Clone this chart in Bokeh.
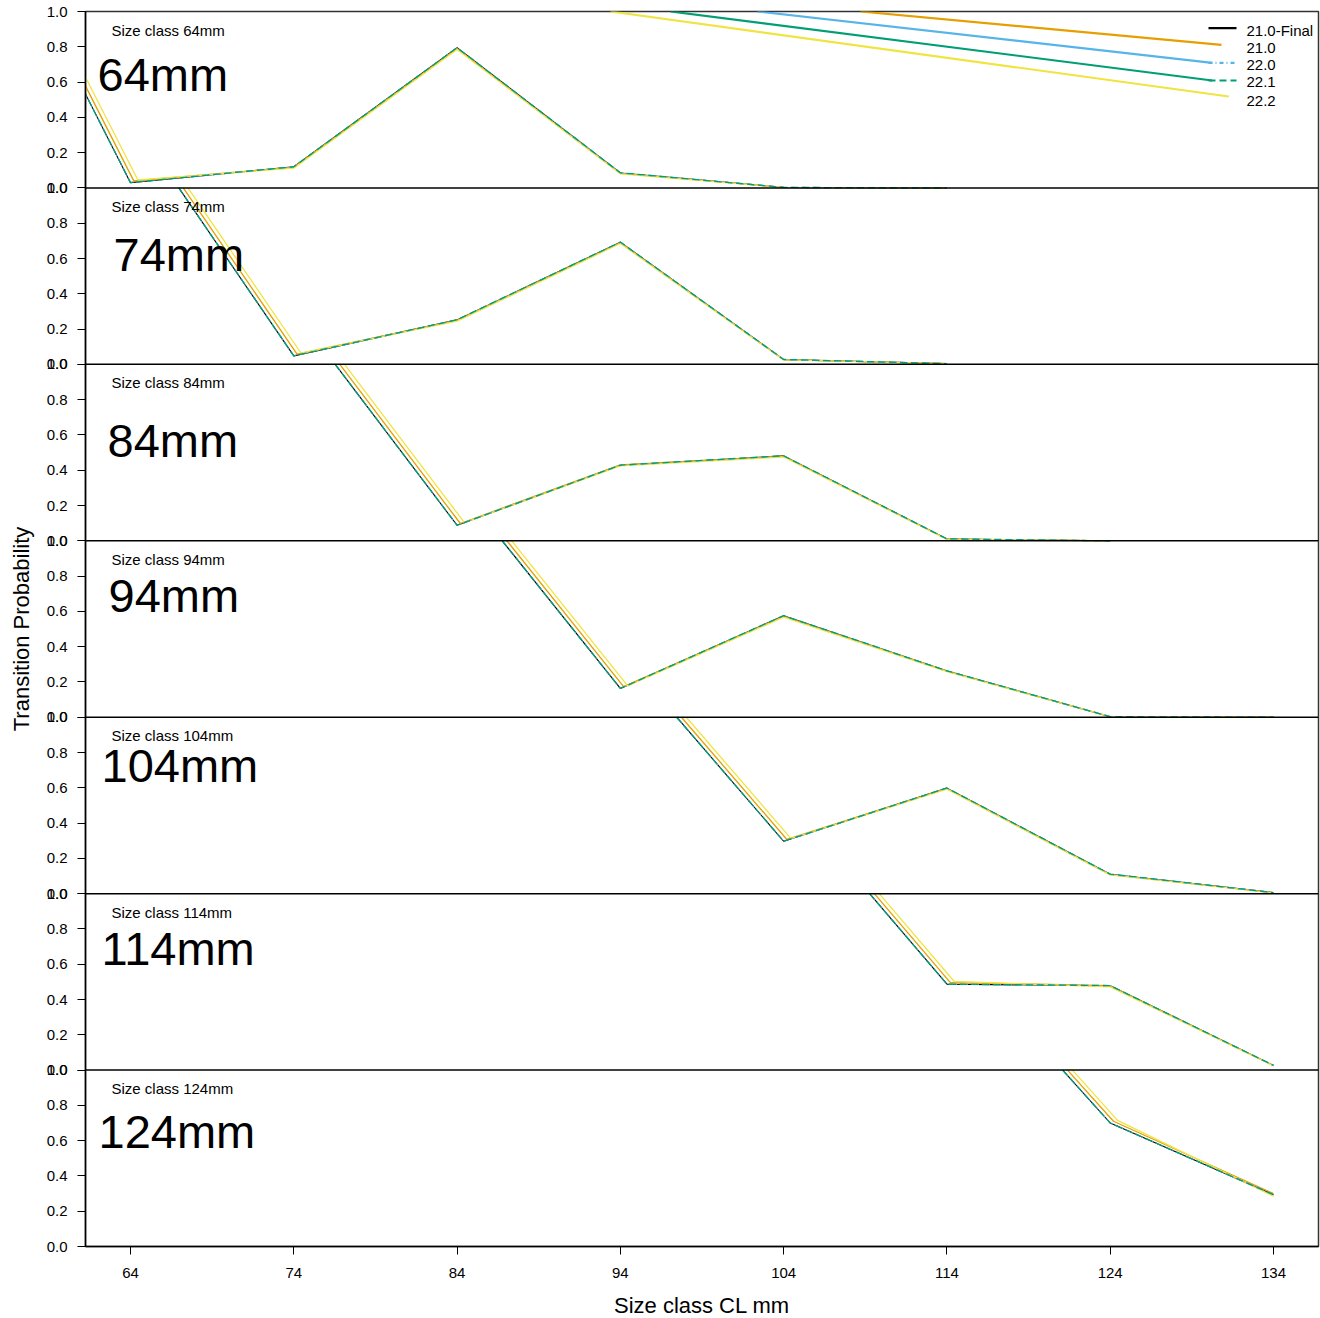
from bokeh.plotting import figure
from bokeh.models import Range1d, FixedTicker, CustomJSTickFormatter, Span
from bokeh.core.properties import value
from bokeh.embed import file_html
from bokeh.resources import INLINE

# ---------------- data ----------------
series_names = ["21.0-Final", "21.0", "22.0", "22.1", "22.2"]
size_classes = [64, 74, 84, 94, 104, 114, 124, 134]
panel_classes = [64, 74, 84, 94, 104, 114, 124]
class_step = 10
y_tick_values = [0.0, 0.2, 0.4, 0.6, 0.8, 1.0]

# rows follow series_names; the first value sits at the previous size class (off scale),
# the following values at the panel's own size class and upward
tp_64 = [
    [1.850, 0.030, 0.120, 0.795, 0.085, 0.003, 0.000],
    [1.860, 0.040, 0.118, 0.790, 0.082, 0.003, 0.000],
    [1.850, 0.030, 0.120, 0.795, 0.085, 0.003, 0.000],
    [1.850, 0.030, 0.120, 0.795, 0.086, 0.003, 0.000],
    [1.865, 0.045, 0.112, 0.785, 0.080, 0.003, 0.000],
]
tp_74 = [
    [1.400, 0.048, 0.252, 0.692, 0.027, 0.004],
    [1.410, 0.058, 0.250, 0.690, 0.027, 0.004],
    [1.400, 0.048, 0.252, 0.692, 0.027, 0.004],
    [1.400, 0.048, 0.253, 0.693, 0.028, 0.004],
    [1.415, 0.063, 0.245, 0.685, 0.025, 0.004],
]
tp_84 = [
    [1.310, 0.088, 0.428, 0.481, 0.010, 0.000],
    [1.320, 0.098, 0.430, 0.480, 0.010, 0.000],
    [1.310, 0.088, 0.428, 0.481, 0.010, 0.000],
    [1.310, 0.088, 0.429, 0.482, 0.011, 0.000],
    [1.325, 0.103, 0.425, 0.475, 0.008, 0.000],
]
tp_94 = [
    [1.320, 0.163, 0.575, 0.262, 0.003, 0.000],
    [1.330, 0.173, 0.572, 0.262, 0.003, 0.000],
    [1.320, 0.163, 0.575, 0.262, 0.003, 0.000],
    [1.320, 0.163, 0.576, 0.263, 0.003, 0.000],
    [1.335, 0.178, 0.567, 0.258, 0.003, 0.000],
]
tp_104 = [
    [1.370, 0.297, 0.598, 0.110, 0.006],
    [1.380, 0.307, 0.596, 0.108, 0.005],
    [1.370, 0.297, 0.598, 0.110, 0.006],
    [1.370, 0.297, 0.599, 0.111, 0.006],
    [1.385, 0.312, 0.592, 0.106, 0.005],
]
tp_114 = [
    [1.570, 0.487, 0.478, 0.026],
    [1.580, 0.497, 0.478, 0.026],
    [1.570, 0.487, 0.478, 0.026],
    [1.570, 0.487, 0.479, 0.027],
    [1.585, 0.502, 0.472, 0.024],
]
tp_124 = [
    [1.730, 0.700, 0.293],
    [1.740, 0.710, 0.300],
    [1.730, 0.700, 0.293],
    [1.730, 0.700, 0.294],
    [1.745, 0.715, 0.285],
]
panel_values = [tp_64, tp_74, tp_84, tp_94, tp_104, tp_114, tp_124]

# ---------------- styles / layout ----------------
series_colors = ["#000000", "#E69F00", "#56B4E9", "#009E73", "#F0E442"]
series_dash = ["solid", "solid", "4 3 1 3", "7 4", "solid"]
series_width = [1.1, 1.3, 1.3, 1.3, 1.3]
draw_order = [0, 1, 4, 2, 3]
lead_dodge = [0.0, 0.2, 0.0, 0.0, 0.45]
FONT = "Liberation Sans"

N = len(panel_classes)
FRAME_W = 1233
FRAME_H = 1235
PANEL_H = FRAME_H / N
B_LEFT, B_RIGHT, B_TOP, B_BOTTOM = 85, 2, 11, 72
PPU = (1273 - 130) / 70.0          # px per size-class unit


def sx(px):
    return 64 + (px - 130) / PPU


def ly(off):
    return 1.0 - off / PANEL_H


X_LO, X_HI = sx(85), sx(85 + FRAME_W)

small_label_px = (111, 18.5)
big_label_px = [(97, 63), (113, 67), (107, 76), (108, 55), (101, 48), (101, 55), (98, 61)]

leg_text_px = 1246
leg_text_off = [19, 36.7, 53.3, 70.7, 89]
sample_px = (1208, 1236)
sample_off = {0: 16.7, 2: 51.3, 3: 69.0}
trail_start_px = {1: 860, 2: 757, 3: 670, 4: 610}
trail_end_px = {1: (1221, 33.3), 2: (1211.7, 51.3), 3: (1211.7, 69.0), 4: (1228.3, 85.0)}


def clip_top(xs, ys, top=1.0):
    ox, oy = [], []
    for i in range(len(xs)):
        x, y = xs[i], ys[i]
        if i > 0:
            px_, py_ = xs[i - 1], ys[i - 1]
            if (py_ > top) != (y > top):
                t = (top - py_) / (y - py_)
                ox.append(px_ + t * (x - px_))
                oy.append(top)
        if y <= top:
            ox.append(x)
            oy.append(y)
    return ox, oy


p = figure(frame_width=FRAME_W, frame_height=FRAME_H,
           x_range=Range1d(X_LO, X_HI), y_range=Range1d(0, N),
           output_backend="svg", toolbar_location=None,
           min_border_left=B_LEFT, min_border_right=B_RIGHT,
           min_border_top=B_TOP, min_border_bottom=B_BOTTOM)
p.xgrid.visible = False
p.ygrid.visible = False
p.outline_line_color = "#333333"
p.outline_line_width = 1.5
p.background_fill_color = "white"
p.border_fill_color = "white"

# y axis: every panel gets 0.0 ... 1.0; at the joins the "1.0" of the lower
# panel and the "0.0" of the upper panel are both printed (two ticks, same place)
EPS = 1e-7
yt = set()
for b in range(N):
    for v in y_tick_values:
        t = b + v
        if abs(v - 1.0) < 1e-9:
            t -= EPS
        elif v == 0.0 and b > 0:
            t += EPS
        yt.add(round(t, 9))
p.yaxis.ticker = FixedTicker(ticks=sorted(yt))
p.yaxis.formatter = CustomJSTickFormatter(code="""
const r = Math.round(tick * 5) / 5;
const n = Math.round(r);
if (Math.abs(r - n) < 1e-6) {
  return tick < n ? "1.0" : "0.0";
}
return (r - Math.floor(r)).toFixed(1);
""")
p.yaxis.major_tick_out = 8
p.yaxis.major_tick_in = 0
p.yaxis.minor_tick_out = 0
p.yaxis.minor_tick_in = 0
p.yaxis.major_label_standoff = 10
p.yaxis.major_label_text_font = FONT
p.yaxis.major_label_text_font_size = "15px"
p.yaxis.major_label_text_color = "black"
p.yaxis.axis_line_width = 1.5
p.yaxis.axis_line_color = "black"
p.yaxis.major_tick_line_color = "black"
p.yaxis.axis_label = "Transition Probability"
p.yaxis.axis_label_text_font = FONT
p.yaxis.axis_label_text_font_size = "22px"
p.yaxis.axis_label_text_font_style = "normal"
p.yaxis.axis_label_text_color = "black"
p.yaxis.axis_label_standoff = 10

# x axis
p.xaxis.ticker = FixedTicker(ticks=size_classes)
p.xaxis.major_tick_out = 8
p.xaxis.major_tick_in = 0
p.xaxis.minor_tick_out = 0
p.xaxis.minor_tick_in = 0
p.xaxis.major_label_standoff = 13
p.xaxis.major_label_text_font = FONT
p.xaxis.major_label_text_font_size = "15px"
p.xaxis.major_label_text_color = "black"
p.xaxis.axis_line_width = 1.5
p.xaxis.axis_line_color = "black"
p.xaxis.major_tick_line_color = "black"
p.xaxis.axis_label = "Size class CL mm"
p.xaxis.axis_label_text_font = FONT
p.xaxis.axis_label_text_font_size = "22px"
p.xaxis.axis_label_text_font_style = "normal"
p.xaxis.axis_label_text_color = "black"
p.xaxis.axis_label_standoff = 12

# data lines
for k, cls in enumerate(panel_classes):
    base = N - 1 - k
    rows = panel_values[k]
    for s in draw_order:
        vals = rows[s]
        xs = [cls - class_step + i * class_step for i in range(len(vals))]
        xs[0] += lead_dodge[s]
        xs[1] += lead_dodge[s]
        cx, cy = clip_top(xs, vals)
        p.line(cx, [base + v for v in cy], line_color=series_colors[s],
               line_width=series_width[s], line_dash=series_dash[s])
    # panel texts
    p.text([sx(small_label_px[0])], [base + ly(small_label_px[1])],
           text=[f"Size class {cls}mm"], text_font=value(FONT), text_font_size="15px",
           text_align="left", text_baseline="middle", text_color="black")
    bx, by = big_label_px[k]
    p.text([sx(bx)], [base + ly(by)], text=[f"{cls}mm"], text_font=value(FONT),
           text_font_size="47px", text_align="left", text_baseline="middle",
           text_color="black")

# legend (top panel)
top_base = N - 1
for s, x0px in trail_start_px.items():
    ex, ey = trail_end_px[s]
    p.line([sx(x0px), sx(ex)], [top_base + 1.0, top_base + ly(ey)],
           line_color=series_colors[s], line_width=2.2)
for s, off in sample_off.items():
    p.line([sx(sample_px[0]), sx(sample_px[1])], [top_base + ly(off)] * 2,
           line_color=series_colors[s], line_width=2.2, line_dash=series_dash[s])
p.text([sx(leg_text_px)] * len(series_names), [top_base + ly(o) for o in leg_text_off],
       text=series_names, text_font=value(FONT), text_font_size="15px",
       text_align="left", text_baseline="middle", text_color="black")

# panel separators
for b in range(1, N):
    p.add_layout(Span(location=b, dimension="width", line_color="black", line_width=1.5))

open("out.html", "w").write(file_html(p, INLINE))
